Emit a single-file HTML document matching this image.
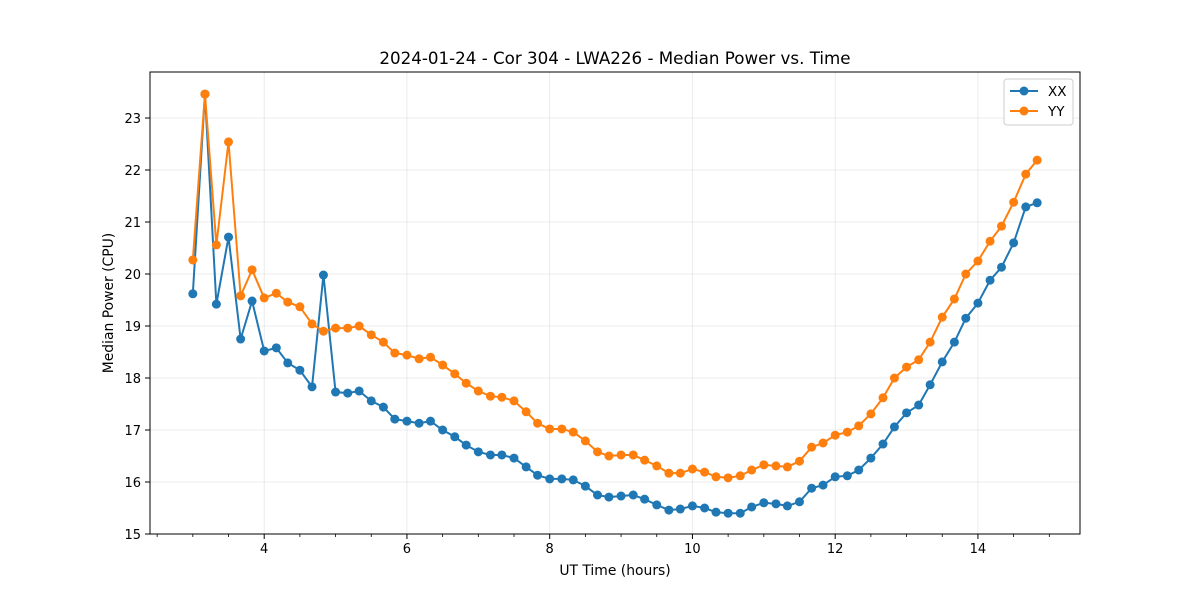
<!DOCTYPE html>
<html><head><meta charset="utf-8"><style>
body{margin:0;background:#fff;font-family:"Liberation Sans","DejaVu Sans",sans-serif}
svg text{font-family:"DejaVu Sans","Liberation Sans",sans-serif;fill:#000}
</style></head><body>
<svg id="chart" width="1200" height="600" xmlns="http://www.w3.org/2000/svg">
<rect width="1200" height="600" fill="#fff"/>
<g id="grid"></g>
<g id="axes"></g>
<g id="series"></g>
<rect x="150" y="72" width="930" height="462" fill="none" stroke="#000" stroke-width="1"/>
<text x="615" y="64" font-size="16.7" text-anchor="middle">2024-01-24 - Cor 304 - LWA226 - Median Power vs. Time</text>
<text x="615" y="575" font-size="13.9" text-anchor="middle">UT Time (hours)</text>
<text x="0" y="0" font-size="13.9" text-anchor="middle" transform="translate(113,303) rotate(-90)">Median Power (CPU)</text>
<g>
<rect x="1004" y="79" width="69" height="46" rx="3" fill="#fff" stroke="#ccc"/>
<g><line x1="1010" y1="91" x2="1038" y2="91" stroke="#1f77b4" stroke-width="2"/><circle cx="1024" cy="91" r="4.5" fill="#1f77b4"/><text x="1048" y="96" font-size="13.5">XX</text></g>
<g><line x1="1010" y1="111" x2="1038" y2="111" stroke="#ff7f0e" stroke-width="2"/><circle cx="1024" cy="111" r="4.5" fill="#ff7f0e"/><text x="1048" y="116" font-size="13.5">YY</text></g>
</g>
</svg>
<script>
const times=[3.0,3.17,3.33,3.5,3.67,3.83,4.0,4.17,4.33,4.5,4.67,4.83,5.0,5.17,5.33,5.5,5.67,5.83,6.0,6.17,6.33,6.5,6.67,6.83,7.0,7.17,7.33,7.5,7.67,7.83,8.0,8.17,8.33,8.5,8.67,8.83,9.0,9.17,9.33,9.5,9.67,9.83,10.0,10.17,10.33,10.5,10.67,10.83,11.0,11.17,11.33,11.5,11.67,11.83,12.0,12.17,12.33,12.5,12.67,12.83,13.0,13.17,13.33,13.5,13.67,13.83,14.0,14.17,14.33,14.5,14.67,14.83];
const xxValues=[19.62,23.46,19.42,20.71,18.75,19.48,18.52,18.58,18.29,18.15,17.83,19.98,17.73,17.71,17.75,17.56,17.44,17.21,17.17,17.13,17.17,17.0,16.87,16.71,16.58,16.52,16.52,16.46,16.29,16.13,16.06,16.06,16.04,15.92,15.75,15.71,15.73,15.75,15.67,15.56,15.46,15.48,15.54,15.5,15.42,15.4,15.4,15.52,15.6,15.58,15.54,15.62,15.88,15.94,16.1,16.12,16.23,16.46,16.73,17.06,17.33,17.48,17.87,18.31,18.69,19.15,19.44,19.88,20.13,20.6,21.29,21.37];
const yyValues=[20.27,23.46,20.56,22.54,19.58,20.08,19.54,19.63,19.46,19.37,19.04,18.9,18.96,18.96,19.0,18.83,18.69,18.48,18.44,18.37,18.4,18.25,18.08,17.9,17.75,17.65,17.63,17.56,17.35,17.13,17.02,17.02,16.96,16.79,16.58,16.5,16.52,16.52,16.42,16.31,16.17,16.17,16.25,16.19,16.1,16.08,16.12,16.23,16.33,16.31,16.29,16.4,16.67,16.75,16.9,16.96,17.08,17.31,17.62,18.0,18.21,18.35,18.69,19.17,19.52,20.0,20.25,20.63,20.92,21.38,21.92,22.19];
const xTicks=[4,6,8,10,12,14];
const xMinorTicks=[2.5,3,3.5,4.5,5,5.5,6.5,7,7.5,8.5,9,9.5,10.5,11,11.5,12.5,13,13.5,14.5,15];
const yTicks=[15,16,17,18,19,20,21,22,23];

const X0=150,X1=1080,Y0=534,Y1=72;
const xMin=2.4,xMax=15.43,yMin=15,yMax=23.885;
const xs=v=>X0+(v-xMin)/(xMax-xMin)*(X1-X0);
const ys=v=>Y0-(v-yMin)/(yMax-yMin)*(Y0-Y1);
const NS="http://www.w3.org/2000/svg";
function mk(tag,attrs,parent){const e=document.createElementNS(NS,tag);for(const k in attrs)e.setAttribute(k,attrs[k]);parent.appendChild(e);return e;}
const grid=document.getElementById('grid'),axes=document.getElementById('axes'),series=document.getElementById('series');
xTicks.forEach(t=>{const x=xs(t);
 let g=mk('line',{x1:x,x2:x,y1:Y1,y2:Y0,stroke:'#b0b0b0','stroke-opacity':0.3,'stroke-width':0.8},grid);
 
 
 let tk=mk('line',{x1:x,x2:x,y1:Y0,y2:Y0+5,stroke:'#000'},axes);
 
 
 let tx=mk('text',{x:x,y:Y0+19,'font-size':13,'text-anchor':'middle'},axes);tx.textContent=t;
 
 
});
xMinorTicks.forEach(t=>{const x=xs(t);
 let tk=mk('line',{x1:x,x2:x,y1:Y0,y2:Y0+3,stroke:'#000','stroke-width':0.8},axes);
 
 
});
yTicks.forEach(t=>{const y=ys(t);
 let g=mk('line',{x1:X0,x2:X1,y1:y,y2:y,stroke:'#b0b0b0','stroke-opacity':0.3,'stroke-width':0.8},grid);
 
 
 let tk=mk('line',{x1:X0-5,x2:X0,y1:y,y2:y,stroke:'#000'},axes);
 
 
 let tx=mk('text',{x:X0-9,y:y+5,'font-size':13,'text-anchor':'end'},axes);tx.textContent=t;
 
 
});
function drawSeries(vals,color,name){
 const g=mk('g',{},series);
 
 
 const pts=vals.map((v,i)=>xs(times[i])+','+ys(v)).join(' ');
 const pl=mk('polyline',{points:pts,fill:'none',stroke:color,'stroke-width':2},g);
 
 
 vals.forEach((v,i)=>{const c=mk('circle',{cx:xs(times[i]),cy:ys(v),r:4.5,fill:color},g);
  
  
 });
}
drawSeries(xxValues,'#1f77b4','xx');
drawSeries(yyValues,'#ff7f0e','yy');
</script>
</body></html>
